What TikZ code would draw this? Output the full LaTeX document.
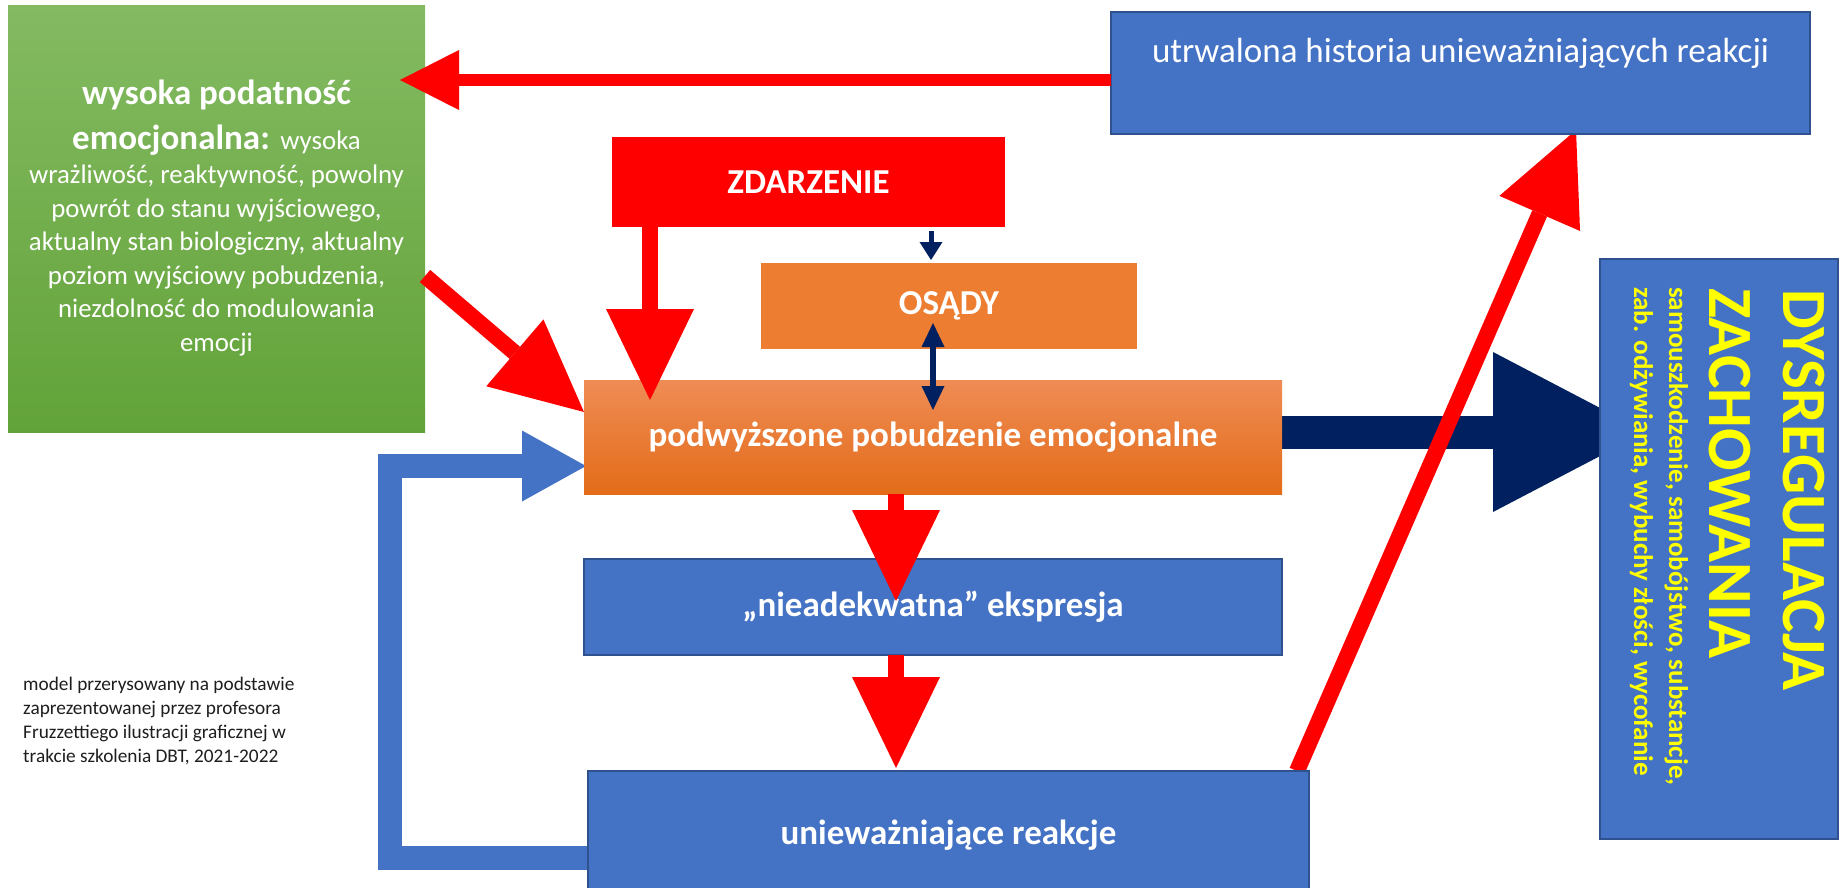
\documentclass[tikz,border=0pt]{standalone}
\usepackage{fontspec}
\setmainfont{Carlito}
\usetikzlibrary{arrows.meta,calc,shadings}
\pgfdeclarelayer{background}
\pgfsetlayers{background,main}

\definecolor{dbtblue}{HTML}{4472C4}
\definecolor{dbtblueedge}{HTML}{2F528F}
\definecolor{dbtnavy}{HTML}{002060}
\definecolor{dbtred}{HTML}{FF0000}
\definecolor{dbtorange}{HTML}{ED7D31}
\definecolor{arTop}{HTML}{EF8C55}
\definecolor{arMid}{HTML}{F17F31}
\definecolor{arBot}{HTML}{E36C19}
\definecolor{grTop}{HTML}{84BA62}
\definecolor{grBot}{HTML}{62A339}
\definecolor{dbtyellow}{HTML}{FFFF00}
\definecolor{notegray}{HTML}{1E1E1E}

\tikzset{
  box/.style={rectangle, inner sep=0pt, outer sep=0pt},
  bluebox/.style={box, fill=dbtblue, draw=dbtblueedge, line width=1.5pt},
  boxtext/.style={text=white, font=\fontsize{35}{42}\bfseries},
  bigred/.style={draw=dbtred, line width=16pt,
    -{Triangle[length=91pt,width=88pt,line width=0pt]}},
  thinred/.style={draw=dbtred, line width=12pt,
    -{Triangle[length=59pt,width=60pt,line width=0pt]}},
  dystext/.style={text=dbtyellow, rotate=-90, anchor=base west, inner sep=0pt},
}

\begin{document}
\begin{tikzpicture}[x=1pt, y=-1pt, line join=miter]
\useasboundingbox (0,0) rectangle (1841,888);
\begin{pgfonlayer}{background}
  \fill[white] (0,0) rectangle (1841,888);
\end{pgfonlayer}

% boxes
\node[box, minimum width=417pt, minimum height=426pt,
      top color=grTop, bottom color=grBot] (vuln) at (216.5,219) {};
\node[bluebox, minimum width=699pt, minimum height=122pt] (hist) at (1460.5,73) {};
\node[box, fill=dbtred, minimum width=393pt, minimum height=90pt, boxtext]
  (event) at (808.5,182) {ZDARZENIE};
\node[box, fill=dbtorange, minimum width=376pt, minimum height=86pt, boxtext]
  (judg) at (949,306) {OSĄDY};
\node[box, minimum width=698pt, minimum height=114pt, boxtext,
      top color=arTop, middle color=arMid, bottom color=arBot]
  (arousal) at (933,437) {podwyższone pobudzenie emocjonalne};
\node[bluebox, minimum width=698pt, minimum height=96pt, boxtext]
  (expr) at (933,607) {„nieadekwatna” ekspresja};
\node[bluebox, minimum width=721pt, minimum height=129pt, boxtext]
  (unrecog) at (948.5,835.5) {unieważniające reakcje};
\node[bluebox, minimum width=238pt, minimum height=580pt] (dysreg) at (1719,549) {};

% arrows drawn behind the boxes
\begin{pgfonlayer}{background}
  \coordinate (fbstart) at ($(unrecog.west)+(0,22.5)$);
  \coordinate (fbtip) at ($(arousal.west)+(2,29)$);
  \coordinate (loopx) at (390,660);
  \draw[dbtblue, line width=24pt,
        -{Triangle[length=64pt,width=71pt,line width=0pt]}]
    (fbstart) -| (loopx) |- (fbtip);

  \coordinate (navystart) at ($(arousal.east)+(0,-5)$);
  \coordinate (navytip) at ($(dysreg.west)+(46,-117)$);
  \draw[dbtnavy, line width=33pt,
        -{Triangle[length=153pt,width=160pt,line width=0pt]}]
    (navystart) -- (navytip);

  \coordinate (histfrom) at ($(unrecog.north east)+(-12,0)$);
  \coordinate (histtip) at ($(hist.south west)+(465,-4)$);
  \draw[bigred] (histfrom) -- (histtip);
\end{pgfonlayer}

% arrows drawn over the boxes
\coordinate (backstart) at ($(hist.west)+(0,7)$);
\coordinate (backtip) at ($(vuln.east)+(-25,-139)$);
\draw[thinred] (backstart) -- (backtip);

\coordinate (vulnfrom) at ($(vuln.east)+(0,57)$);
\coordinate (vulntip) at ($(arousal.west)+(0,-25)$);
\draw[bigred] (vulnfrom) -- (vulntip);

\coordinate (eventfrom) at ($(event.south)+(-158.5,0)$);
\coordinate (eventtip) at ($(arousal.north)+(-283,20)$);
\draw[bigred] (eventfrom) -- (eventtip);

\coordinate (arfrom) at ($(arousal.south)+(-37,0)$);
\coordinate (artip) at ($(expr.north)+(-37,42)$);
\draw[bigred] (arfrom) -- (artip);

\coordinate (exfrom) at ($(expr.south)+(-37,0)$);
\coordinate (extip) at ($(expr.south)+(-37,113)$);
\draw[bigred] (exfrom) -- (extip);

\coordinate (judgfrom) at ($(event.south)+(122.5,4)$);
\coordinate (judgtip) at ($(event.south)+(122.5,33)$);
\draw[dbtnavy, line width=5pt,
      -{Triangle[length=18pt,width=23pt,line width=0pt]}] (judgfrom) -- (judgtip);

\coordinate (judgup) at ($(judg.south)+(-16,-26)$);
\coordinate (judgdown) at ($(judg.south)+(-16,61)$);
\draw[dbtnavy, line width=6pt,
      {Triangle[length=24pt,width=23pt,line width=0pt]}-{Triangle[length=24pt,width=23pt,line width=0pt]}]
  (judgup) -- (judgdown);

% texts
\node[anchor=base, inner sep=0pt, text=white] (vulntext) at (216.5,105) {%
  \parbox[t]{410pt}{\centering
    \fontsize{35}{45}\bfseries wysoka podatność\par
    emocjonalna: {\mdseries\fontsize{26.8}{45}\selectfont wysoka}\par
    \mdseries\fontsize{26.8}{33.6}\selectfont
    wrażliwość, reaktywność, powolny\\
    powrót do stanu wyjściowego,\\
    aktualny stan biologiczny, aktualny\\
    poziom wyjściowy pobudzenia,\\
    niezdolność do modulowania\\
    emocji\par}};

\node[anchor=base, inner sep=0pt, text=white, font=\fontsize{35}{42}\selectfont]
  (histtext) at (1460.5,63) {utrwalona historia unieważniających reakcji};

\node[dystext, font=\fontsize{63}{70}\bfseries] (dysA) at (1783,289) {DYSREGULACJA};
\node[dystext, font=\fontsize{63}{70}\bfseries] (dysB) at (1709,288) {ZACHOWANIA};
\node[dystext, font=\fontsize{27}{32}\bfseries] (dysC) at (1669,287)
  {samouszkodzenie, samobójstwo, substancje,};
\node[dystext, font=\fontsize{27}{32}\bfseries] (dysD) at (1634,287)
  {zab. odżywiania, wybuchy złości, wycofanie};

\node[anchor=base west, inner sep=0pt, text=notegray] (note) at (23,690) {%
  \parbox[t]{330pt}{\raggedright\fontsize{19.3}{24}\selectfont
    model przerysowany na podstawie\\
    zaprezentowanej przez profesora\\
    Fruzzettiego ilustracji graficznej w\\
    trakcie szkolenia DBT, 2021-2022}};
\end{tikzpicture}
\end{document}
